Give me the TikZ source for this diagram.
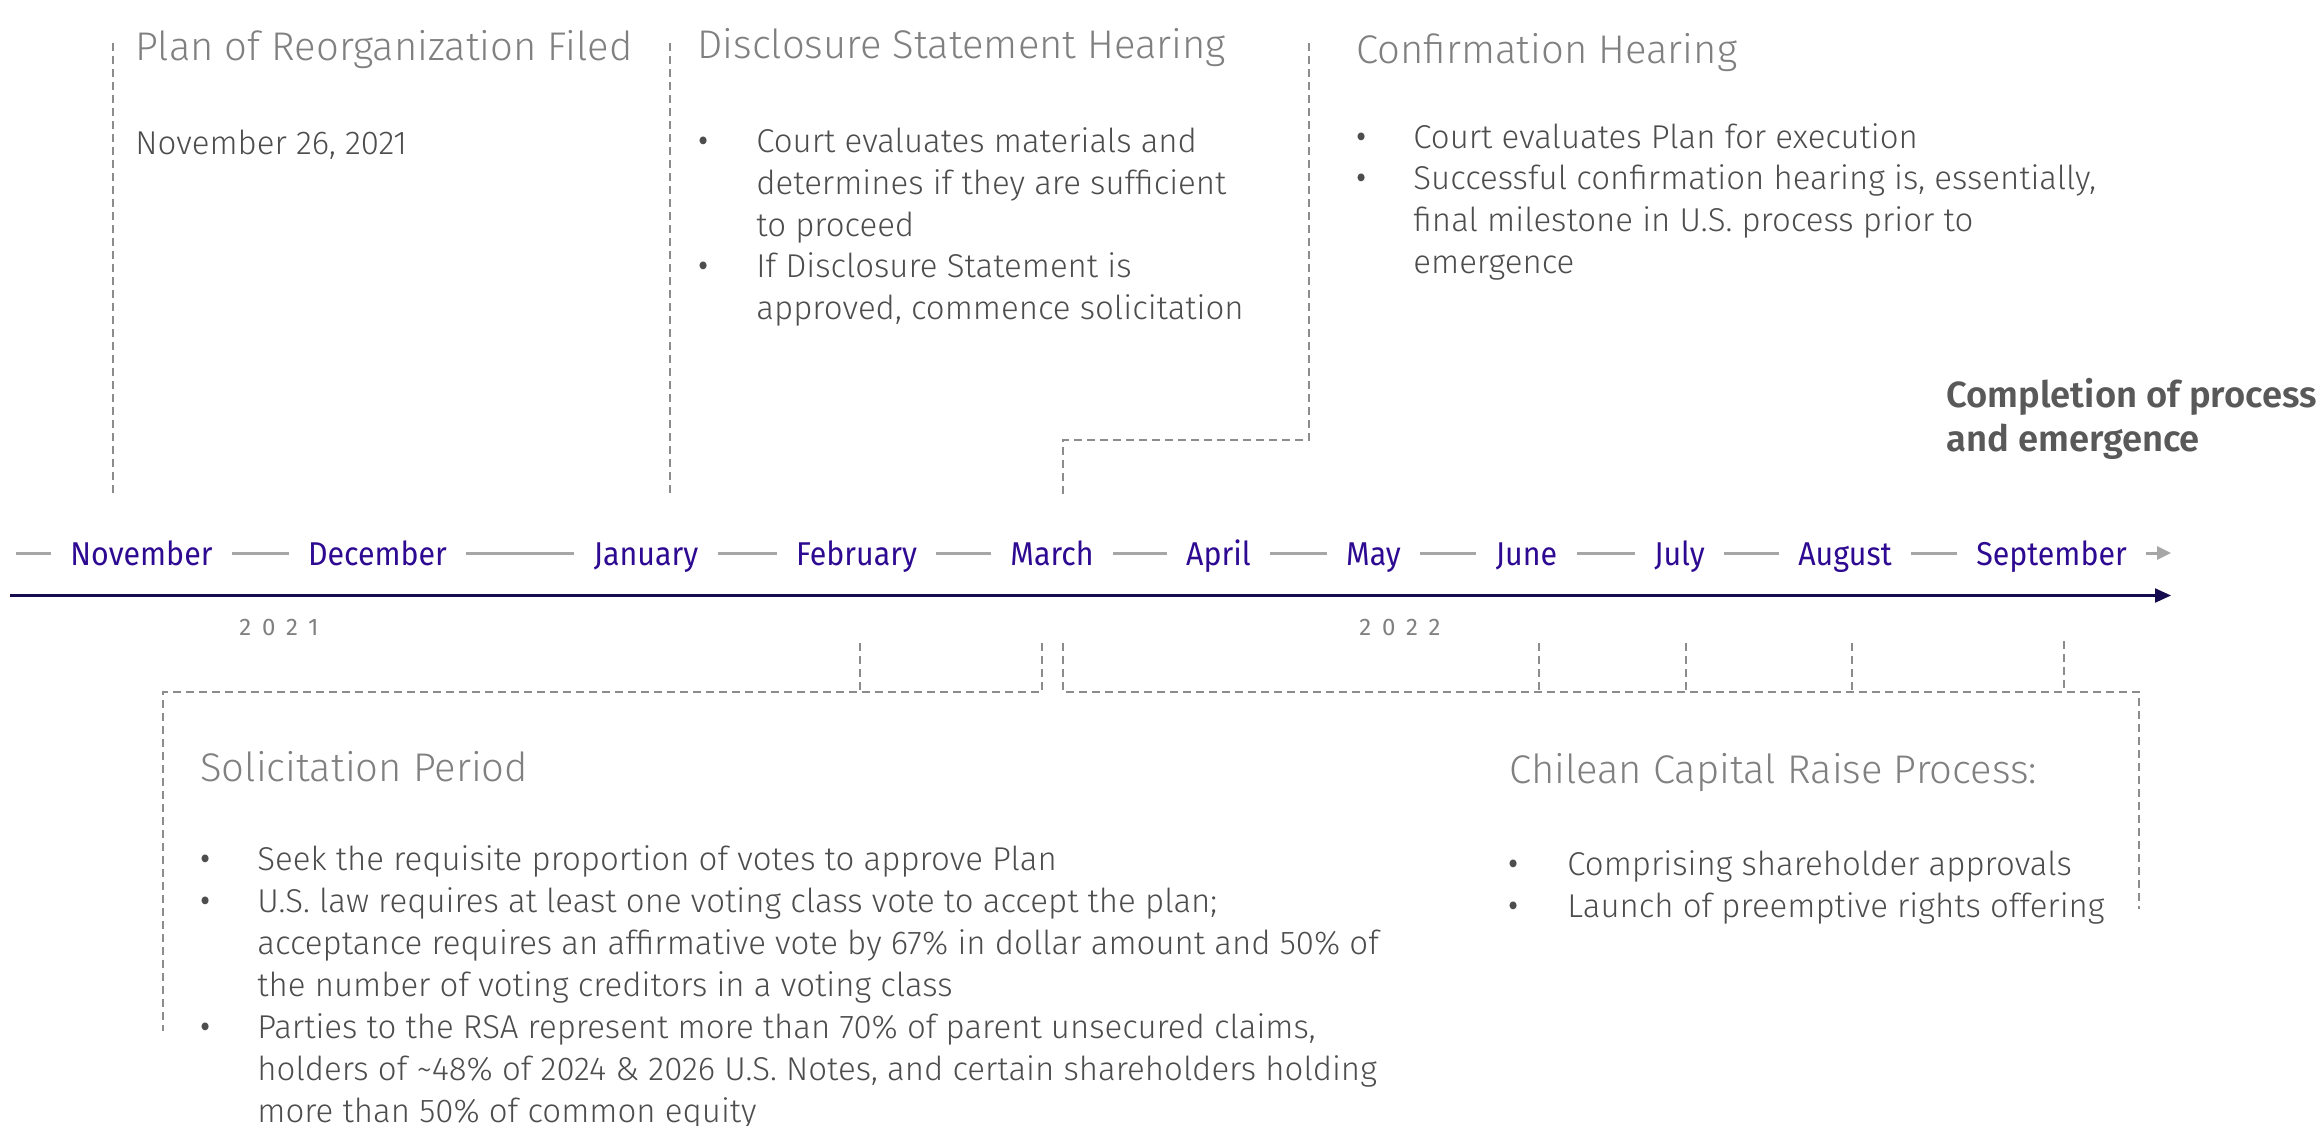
\documentclass[tikz,border=0pt]{standalone}
\usepackage{fontspec}
\setmainfont{Fira Sans}[UprightFont={* Light},BoldFont={* SemiBold}]
\newfontfamily\monthfont{Fira Sans}[FakeStretch=0.92]
\newfontfamily\yearfont{Fira Sans}[LetterSpace=45]
\usetikzlibrary{arrows.meta}

\definecolor{headgray}{HTML}{808080}
\definecolor{bodygray}{HTML}{4D4D4D}
\definecolor{boldgray}{HTML}{595959}
\definecolor{monthblue}{HTML}{2D0A91}
\definecolor{axisnavy}{HTML}{150B4F}
\definecolor{dashgray}{HTML}{A6A6A6}
\definecolor{guidegray}{HTML}{8C8C8C}

\begin{document}
\begin{tikzpicture}[x=0.5pt,y=0.5pt,yscale=-1,
  heading/.style={font=\fontsize{20}{24}\selectfont, text=headgray, inner sep=0, anchor=base west},
  bodytext/.style={font=\fontsize{16.5}{21}\selectfont, text=bodygray, inner sep=0, anchor=base west, align=left},
  bulletmark/.style={font=\monthfont\fontsize{17}{21}\selectfont, text=bodygray, inner sep=0, anchor=base},
  month/.style={font=\monthfont\fontsize{16.5}{20}\selectfont, text=monthblue, inner xsep=9.5pt, inner ysep=0, text height=13pt, text depth=1pt},
  year/.style={font=\yearfont\fontsize{12}{14}\selectfont, text=headgray, inner sep=0, anchor=base},
  monthdash/.style={dashgray, line width=1.5pt},
  guide/.style={guidegray, line width=0.7pt, dash pattern=on 4pt off 2.5pt}]
\useasboundingbox (0,0) rectangle (2324,1125);

%Timeline axis
\coordinate (axisstart) at (10,595.5);
\coordinate (axisend) at (2171,595.5);
\draw [axisnavy, line width=1.1pt, -{Triangle[length=8pt,width=7pt]}] (axisstart) -- (axisend);

% Month Nodes
\node[month] (nov) at (141.5,553) {November};
\node[month] (dec) at (377.5,553) {December};
\node[month] (jan) at (646,553) {January};
\node[month] (feb) at (856.5,553) {February};
\node[month] (mar) at (1052,553) {March};
\node[month] (apr) at (1218.5,553) {April};
\node[month] (may) at (1373.5,553) {May};
\node[month] (jun) at (1526.5,553) {June};
\node[month] (jul) at (1679.5,553) {July};
\node[month] (aug) at (1845,553) {August};
\node[month] (sep) at (2051.5,553) {September};

%Month dashes
\coordinate (leadstart) at (16,553);
\coordinate (tailend) at (2171,553);
\draw [monthdash] (leadstart) -- (nov);
\draw [monthdash] (nov) -- (dec);
\draw [monthdash] (dec) -- (jan);
\draw [monthdash] (jan) -- (feb);
\draw [monthdash] (feb) -- (mar);
\draw [monthdash] (mar) -- (apr);
\draw [monthdash] (apr) -- (may);
\draw [monthdash] (may) -- (jun);
\draw [monthdash] (jun) -- (jul);
\draw [monthdash] (jul) -- (aug);
\draw [monthdash] (aug) -- (sep);
\draw [monthdash, -{Triangle[length=7pt,width=6.5pt]}] (sep) -- (tailend);

% Text Node
\node[year] (yr2021) at (279,635) {2021};
% Text Node
\node[year] (yr2022) at (1400,635) {2022};

%Dashed Lines (top)
\draw [guide] (113,43) -- (113,497);
\draw [guide] (670,43) -- (670,497);
\draw [guide] (1309,43) -- (1309,440) -- (1063,440) -- (1063,495);

%Dashed Lines (bottom)
\draw [guide] (860,643) -- (860,692);
\draw [guide] (1042,643) -- (1042,692) -- (163,692) -- (163,1031);
\draw [guide] (1063,643) -- (1063,692) -- (2139,692) -- (2139,909);
\draw [guide] (1539,643) -- (1539,692);
\draw [guide] (1686,643) -- (1686,692);
\draw [guide] (1852,643) -- (1852,692);
\draw [guide] (2064,641) -- (2064,692);

% Text Node
\node[heading] (planhead) at (135,60) {Plan of Reorganization Filed};
\node[bodytext] (plandate) at (135,154) {November 26, 2021};

% Text Node
\node[heading] (dshead) at (697,58) {Disclosure Statement Hearing};
\node[bulletmark] (dsb1) at (704,152) {•};
\node[bodytext] (dsi1) at (756,236) {Court evaluates materials and\\determines if they are sufficient\\to proceed};
\node[bulletmark] (dsb2) at (704,277) {•};
\node[bodytext] (dsi2) at (756,319) {If Disclosure Statement is\\approved, commence solicitation};

% Text Node
\node[heading] (cfhead) at (1356,63) {Confirmation Hearing};
\node[bulletmark] (cfb1) at (1362,148) {•};
\node[bodytext] (cfi1) at (1413,148) {Court evaluates Plan for execution};
\node[bulletmark] (cfb2) at (1362,189.5) {•};
\node[bodytext] (cfi2) at (1413,273.5) {Successful confirmation hearing is, essentially,\\final milestone in U.S. process prior to\\emergence};

% Text Node
\node[bodytext, font=\bfseries\fontsize{18.2}{22}\selectfont, text=boldgray] (done) at (1946,451) {Completion of process\\and emergence};

% Text Node
\node[heading] (solhead) at (200,781) {Solicitation Period};
\node[bulletmark] (solb1) at (206,870) {•};
\node[bodytext] (soli1) at (257,870) {Seek the requisite proportion of votes to approve Plan};
\node[bulletmark] (solb2) at (206,912) {•};
\node[bodytext] (soli2) at (257,996) {U.S. law requires at least one voting class vote to accept the plan;\\acceptance requires an affirmative vote by 67\% in dollar amount and 50\% of\\the number of voting creditors in a voting class};
\node[bulletmark] (solb3) at (206,1038) {•};
\node[bodytext] (soli3) at (257,1122) {Parties to the RSA represent more than 70\% of parent unsecured claims,\\holders of \textasciitilde48\% of 2024 \& 2026 U.S. Notes, and certain shareholders holding\\more than 50\% of common equity};

% Text Node
\node[heading] (chhead) at (1509,783) {Chilean Capital Raise Process:};
\node[bulletmark] (chb1) at (1514,875) {•};
\node[bodytext] (chi1) at (1567,875) {Comprising shareholder approvals};
\node[bulletmark] (chb2) at (1514,917) {•};
\node[bodytext] (chi2) at (1567,917) {Launch of preemptive rights offering};

\end{tikzpicture}
\end{document}
